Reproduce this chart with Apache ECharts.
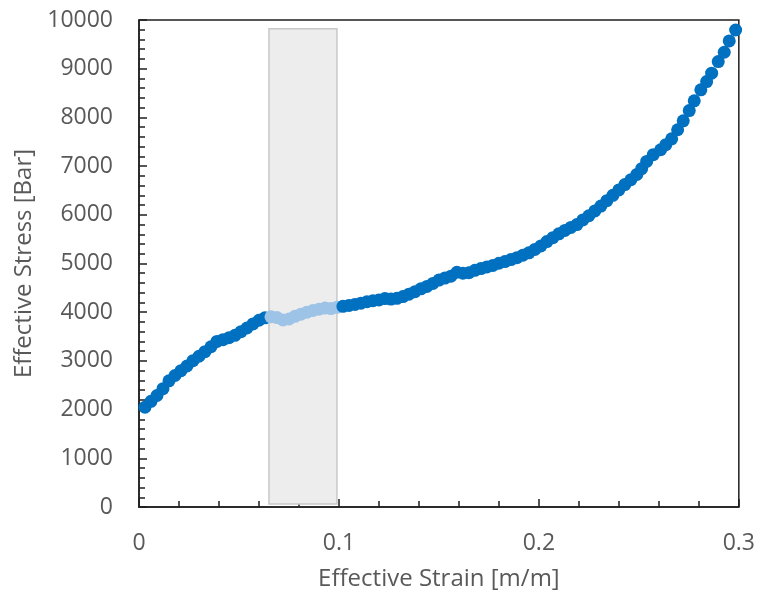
<!DOCTYPE html>
<html>
<head>
<meta charset="utf-8">
<script src="https://cdn.jsdelivr.net/npm/echarts@6/dist/echarts.min.js"></script>
<style>
  html, body { margin: 0; padding: 0; background: #fff; }
  #chart { width: 758px; height: 596px; }
</style>
</head>
<body>
<div id="chart"></div>
<script>
// effective strain [m/m] of each measured point
const strain = [
  0.003, 0.006, 0.009, 0.012, 0.015, 0.018, 0.021, 0.024, 0.027, 0.030,
  0.033, 0.036, 0.039, 0.042, 0.045, 0.048, 0.051, 0.054, 0.057, 0.060,
  0.063, 0.066, 0.069, 0.072, 0.075, 0.078, 0.081, 0.084, 0.087, 0.090,
  0.093, 0.096, 0.099, 0.102, 0.105, 0.108, 0.111, 0.114, 0.117, 0.120,
  0.123, 0.126, 0.129, 0.132, 0.135, 0.138, 0.141, 0.144, 0.147, 0.150,
  0.153, 0.156, 0.159, 0.162, 0.165, 0.168, 0.171, 0.174, 0.177, 0.180,
  0.183, 0.186, 0.189, 0.192, 0.195, 0.198, 0.201, 0.204, 0.207, 0.210,
  0.213, 0.216, 0.219, 0.222, 0.225, 0.228, 0.231, 0.234, 0.237, 0.240,
  0.243, 0.246, 0.249, 0.2514, 0.2539, 0.2572, 0.2609, 0.2635, 0.2664, 0.2694,
  0.2722, 0.2752, 0.2777, 0.2810, 0.2839, 0.2864, 0.2897, 0.2927, 0.2952, 0.2984
]
// effective stress [Bar]
const stress = [
  2050, 2170, 2290, 2430, 2590, 2700, 2800, 2895, 3005, 3095,
  3190, 3290, 3400, 3435, 3475, 3525, 3600, 3675, 3760, 3835,
  3885, 3905, 3890, 3840, 3860, 3915, 3960, 4000, 4035, 4060,
  4085, 4075, 4100, 4120, 4140, 4160, 4185, 4215, 4235, 4250,
  4280, 4270, 4285, 4320, 4370, 4420, 4480, 4530, 4590, 4660,
  4700, 4740, 4820, 4800, 4810, 4860, 4895, 4930, 4960, 5005,
  5040, 5080, 5120, 5170, 5220, 5290, 5360, 5450, 5530, 5610,
  5680, 5740, 5800, 5895, 5980, 6080, 6180, 6290, 6400, 6510,
  6620, 6720, 6830, 6947, 7096, 7234, 7336, 7439, 7561, 7746,
  7930, 8141, 8340, 8566, 8736, 8908, 9146, 9338, 9570, 9795
]
// highlighted strain window and the height of the grey box
const highlight = [0.065, 0.099]
const boxStress = [60, 9820]

const dark = "#0070c0"
const light = "#9dc3e6"
const textColor = "#595959"
const fontFamily = "'Open Sans', sans-serif"

const chart = echarts.init(document.getElementById("chart"))

chart.setOption({
  animation: false,
  grid: {
    left: 139,
    right: 18,
    top: 20,
    bottom: 88,
    show: true,
    borderColor: "#1f1f1f",
    borderWidth: 1.5
  },
  xAxis: {
    type: "value",
    min: 0,
    max: 0.3,
    interval: 0.1,
    name: "Effective Strain [m/m]",
    nameLocation: "middle",
    nameGap: 60,
    nameTextStyle: { color: textColor, fontSize: 24, fontFamily },
    axisLine: { onZero: false, lineStyle: { color: "#1f1f1f", width: 1.5 } },
    axisTick: { inside: true, length: 8, lineStyle: { color: "#1f1f1f", width: 1.5 } },
    minorTick: { show: true, splitNumber: 5, length: 6, lineStyle: { color: "#1f1f1f", width: 1.5 } },
    axisLabel: { color: textColor, fontSize: 23, fontFamily, margin: 25 },
    splitLine: { show: false }
  },
  yAxis: {
    type: "value",
    min: 0,
    max: 10000,
    interval: 1000,
    name: "Effective Stress [Bar]",
    nameLocation: "middle",
    nameGap: 100,
    nameTextStyle: { color: textColor, fontSize: 24, fontFamily },
    axisLine: { onZero: false, lineStyle: { color: "#1f1f1f", width: 1.5 } },
    axisTick: { inside: true, length: 8, lineStyle: { color: "#1f1f1f", width: 1.5 } },
    minorTick: { show: true, splitNumber: 5, length: 6, lineStyle: { color: "#1f1f1f", width: 1.5 } },
    axisLabel: { color: textColor, fontSize: 23, fontFamily, margin: 26, formatter: v => String(v) },
    splitLine: { show: false }
  },
  series: [
    {
      // grey box behind the points
      type: "scatter",
      data: [],
      z: 1,
      markArea: {
        silent: true,
        itemStyle: { color: "#ededed", borderColor: "#c8c8c8", borderWidth: 1.5, opacity: 1 },
        data: [[
          { coord: [highlight[0], boxStress[0]] },
          { coord: [highlight[1], boxStress[1]] }
        ]]
      }
    },
    {
      type: "scatter",
      z: 3,
      symbolSize: 13,
      data: strain.map((s, i) => [s, stress[i]]),
      itemStyle: {
        opacity: 1,
        color: p => (p.value[0] >= highlight[0] && p.value[0] <= highlight[1] ? light : dark)
      }
    }
  ]
})
</script>
</body>
</html>
